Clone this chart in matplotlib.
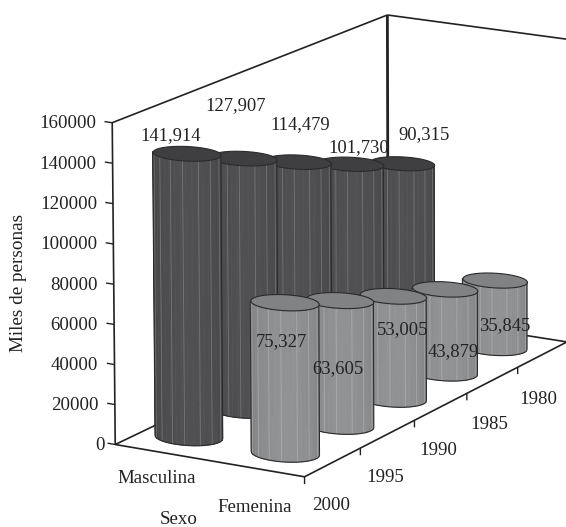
import numpy as np
import matplotlib
matplotlib.use('Agg')
import matplotlib.pyplot as plt
from matplotlib.colors import to_rgb
from mpl_toolkits.mplot3d import proj3d
from mpl_toolkits.mplot3d.art3d import Poly3DCollection, Line3DCollection

years = [2000, 1995, 1990, 1985, 1980]
masculina = [141914, 127907, 114479, 101730, 90315]
femenina = [75327, 63605, 53005, 43879, 35845]
sexos = ['Masculina', 'Femenina']
z_ticks = [0, 20000, 40000, 60000, 80000, 100000, 120000, 140000, 160000]

# label nudges in pixels, from the top centre of each bar
masc_nudge = [(-16, 18), (-8, 52), (2, 37), (8, 16), (22, 29)]
fem_nudge = [(-3, -39), (-2, -69), (10, -34), (9, -63), (10, -46)]

W, H = 566, 527
XLIM = (-0.45, 1.5)
YLIM = (2002.66, 1977.34)
ZMAX = 160000
RX, RY = 0.32, 1.27   # cylinder radii in data units
FRONT = np.radians(203.5)  # angle where the visible half of a cylinder starts


def camera_matrix():
    # where the corners of the box land on the canvas (u, v, w) -> (px, py)
    box = [((0, 0, 0), (115, 444)), ((1, 0, 0), (305, 477)),
           ((1, 1, 0), (567, 342)), ((0, 1, 0), (388, 314)),
           ((0, 0, 1), (112, 123)), ((0, 1, 1), (388, 15)),
           ((1, 1, 1), (567, 39))]
    rows = []
    for (u, v, w), (px, py) in box:
        py = H - py
        rows.append([u, v, w, 1, 0, 0, 0, 0, -px*u, -px*v, -px*w, -px])
        rows.append([0, 0, 0, 0, u, v, w, 1, -py*u, -py*v, -py*w, -py])
    p = np.linalg.svd(np.array(rows, dtype=float))[2][-1].reshape(3, 4)
    p = p / p[2, 3]
    depth = [-0.35, 1.0, -0.1, 0.35]
    cam = np.array([p[0], p[1], depth, p[2]])
    # data limits to the unit box
    norm = np.array([
        [1/(XLIM[1]-XLIM[0]), 0, 0, -XLIM[0]/(XLIM[1]-XLIM[0])],
        [0, 1/(YLIM[1]-YLIM[0]), 0, -YLIM[0]/(YLIM[1]-YLIM[0])],
        [0, 0, 1/ZMAX, 0],
        [0, 0, 0, 1]])
    return cam @ norm


def label(x, y, z, s, dx, dy, size=13.6, ha='center', order=30):
    px, py, _ = proj3d.proj_transform(np.array([x]), np.array([y]), np.array([z]), M)
    ax.text2D(px[0] + dx, py[0] + dy, s, transform=ax.transData, ha=ha, va='center',
              fontsize=size, color=ink, zorder=order)


def line3d(xs, ys, zs, color, lw, order, alpha=None):
    pts = np.column_stack([xs, ys, zs])
    ax.add_collection3d(Line3DCollection([pts], colors=color, linewidths=lw,
                                          alpha=alpha, zorder=order))


def cylinder(x, year, value, side, top, stripe, order):
    t = np.linspace(FRONT, FRONT + np.pi, 19)
    xs = x + RX*np.cos(t)
    ys = year - RY*np.sin(t)
    X = np.array([xs, xs])
    Y = np.array([ys, ys])
    Z = np.array([np.zeros_like(xs), np.full_like(xs, value)])

    # a little lighter in the middle of the visible side
    light = 0.86 + 0.14*np.sin((t - FRONT))
    colors = np.zeros((2, len(t), 4))
    colors[..., :3] = np.outer(light, to_rgb(side))
    colors[..., 3] = 1
    ax.plot_surface(X, Y, Z, rstride=1, cstride=1, facecolors=colors,
                    shade=False, linewidth=0.5, zorder=order)

    # thin facet lines running up the side
    for f in [0.10, 0.22, 0.35, 0.47, 0.62, 0.75, 0.90]:
        a = FRONT + f*np.pi
        line3d([x + RX*np.cos(a)]*2, [year - RY*np.sin(a)]*2, [0, value],
               stripe, 0.6, order + 0.1, alpha=0.5)

    # outline
    line3d(xs, ys, 0*xs, '#2a2a2c', 0.8, order + 0.2)
    for i in [0, -1]:
        line3d([xs[i]]*2, [ys[i]]*2, [0, value], '#2a2a2c', 0.8, order + 0.2)

    # flat cap
    c = np.linspace(0, 2*np.pi, 37)
    cap = list(zip(x + RX*np.cos(c), year - RY*np.sin(c), np.full_like(c, value)))
    ax.add_collection3d(Poly3DCollection([cap], facecolors=top, edgecolors='#2a2a2c',
                                         linewidths=0.8, zorder=order + 0.3))


fig = plt.figure(figsize=(W/100, H/100), dpi=100)
plt.rcParams['font.family'] = ['Liberation Serif', 'DejaVu Serif']
ax = fig.add_axes([0, 0, 1, W/H], projection='3d', computed_zorder=False)
M = camera_matrix()
ax.get_proj = lambda: M
ax.set_axis_off()
ax.patch.set_visible(False)

ink = '#222222'
x0, x1 = XLIM
y0, y1 = YLIM

# walls and floor
line3d([x0, x0, x0], [y0, y0, y1], [0, ZMAX, ZMAX], ink, 1.2, 1)
line3d([x0, x1], [y1, y1], [ZMAX, ZMAX], ink, 1.2, 1)
line3d([x0, x0], [y1, y1], [0, ZMAX], ink, 2, 1)
line3d([x0, x1, x1, x0, x0], [y0, y0, y1, y1, y0], [0, 0, 0, 0, 0], ink, 1.2, 1)

# value axis
for z in z_ticks:
    line3d([x0 - 0.08, x0], [y0, y0], [z, z], ink, 1, 1)
    label(x0, y0, z, str(z), -10 if z == 0 else -16, -1, ha='right')

# year axis, ticks sit between the years
edges = [y0 - i*(y0 - y1)/5 for i in range(6)]
for e in edges:
    line3d([x1, x1], [e, e], [0, -3600], ink, 1, 1)
for yr in years:
    label(x1, yr, 0, str(yr), -3, -44)

label(0, y0, 0, sexos[0], -2, -27)
label(1, y0, 0, sexos[1], -1, -39)

# back rows first so the nearer bars cover them
for i in range(len(years) - 1, -1, -1):
    cylinder(0, years[i], masculina[i], '#505052', '#3f3f41', '#9a9a9a', 10 + (4 - i))
for i in range(len(years) - 1, -1, -1):
    cylinder(1, years[i], femenina[i], '#909294', '#808284', '#c4c4c4', 20 + (4 - i))

for i, yr in enumerate(years):
    dx, dy = masc_nudge[i]
    label(0, yr, masculina[i], f'{masculina[i]:,}', dx, dy, size=13.4, order=31)
    dx, dy = fem_nudge[i]
    label(1, yr, femenina[i], f'{femenina[i]:,}', dx, dy, size=13.4, order=31)

fig.text(19/W, 1 - 283/H, 'Miles de personas', rotation=90, ha='center', va='center',
         fontsize=13.8, color=ink)
fig.text(179/W, 1 - 520/H, 'Sexo', ha='center', va='center', fontsize=13.6, color=ink)

# the camera matrix already gives canvas pixels
ax.viewLim.intervalx = (0, W)
ax.viewLim.intervaly = (0, W)

fig.savefig('out.png', dpi=100)
